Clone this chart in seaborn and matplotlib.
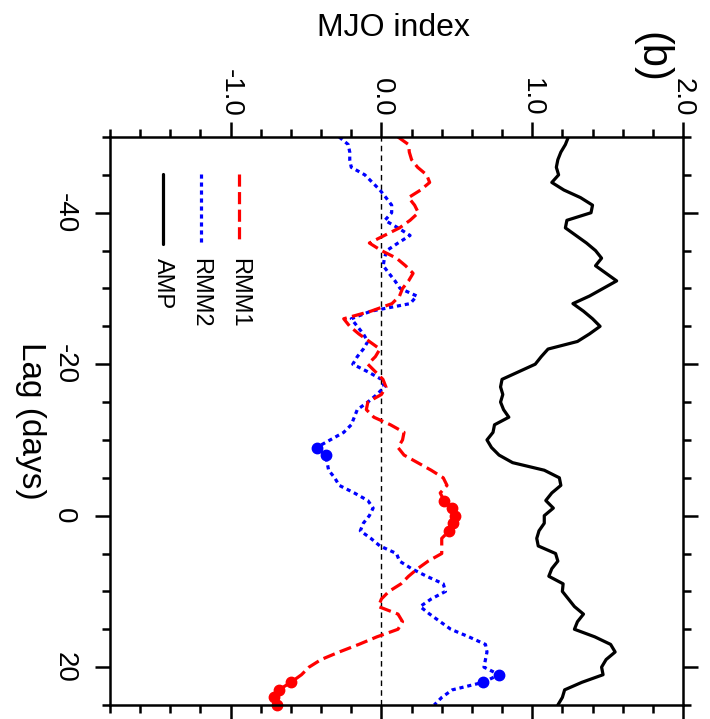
import numpy as np
import pandas as pd
import matplotlib
matplotlib.use("Agg")
import matplotlib.pyplot as plt
import seaborn as sns

# ── data (lag in days, composite MJO index) ─────────────────────
lags = list(range(-50, 26))

amp = [1.24, 1.22, 1.19, 1.17, 1.16, 1.175, 1.13, 1.21, 1.32, 1.40,
       1.39, 1.23, 1.22, 1.29, 1.36, 1.42, 1.46, 1.42, 1.49, 1.56,
       1.47, 1.38, 1.27, 1.34, 1.40, 1.45, 1.38, 1.30, 1.105, 1.06,
       1.02, 0.91, 0.80, 0.79, 0.805, 0.79, 0.81, 0.845, 0.75, 0.74,
       0.70, 0.73, 0.78, 0.87, 1.08, 1.18, 1.19, 1.13, 1.09, 1.14,
       1.08, 1.08, 1.045, 1.03, 1.04, 1.155, 1.17, 1.13, 1.11, 1.205,
       1.20, 1.24, 1.28, 1.34, 1.30, 1.28, 1.415, 1.52, 1.55, 1.49,
       1.46, 1.47, 1.33, 1.215, 1.20, 1.17]

rmm1 = [0.11, 0.18, 0.185, 0.20, 0.24, 0.30, 0.32, 0.26, 0.18, 0.22,
        0.245, 0.19, 0.12, 0.02, -0.08, 0.0, 0.10, 0.16, 0.21, 0.18,
        0.14, 0.12, 0.07, -0.07, -0.25, -0.21, -0.15, -0.08, -0.01, -0.04,
        -0.09, -0.04, 0.01, 0.03, 0.0, -0.09, -0.10, -0.05, 0.06, 0.15,
        0.14, 0.11, 0.15, 0.24, 0.33, 0.41, 0.435, 0.39, 0.415, 0.47,
        0.49, 0.475, 0.45, 0.40, 0.40, 0.40, 0.31, 0.24, 0.18, 0.13,
        0.05, 0.0, -0.02, 0.11, 0.14, 0.11, -0.03, -0.15, -0.28, -0.40,
        -0.48, -0.53, -0.60, -0.68, -0.71, -0.69]

rmm2 = [-0.28, -0.22, -0.21, -0.21, -0.20, -0.11, -0.06, -0.01, 0.03, 0.068,
        0.068, 0.023, 0.11, 0.19, 0.11, 0.035, 0.02, 0.012, 0.05, 0.09,
        0.124, 0.235, 0.19, -0.07, -0.20, -0.16, -0.12, -0.09, -0.12, -0.16,
        -0.19, -0.09, 0.0, 0.02, -0.03, -0.09, -0.16, -0.18, -0.20, -0.25,
        -0.34, -0.43, -0.37, -0.36, -0.35, -0.31, -0.28, -0.18, -0.09, -0.055,
        -0.08, -0.12, -0.14, -0.07, -0.01, 0.10, 0.12, 0.20, 0.30, 0.41,
        0.425, 0.33, 0.257, 0.32, 0.39, 0.46, 0.58, 0.69, 0.70, 0.69,
        0.68, 0.78, 0.676, 0.47, 0.40, 0.35]

# lags marked as significant
rmm1_sig = [-2, -1, 0, 1, 2, 22, 23, 24, 25]
rmm2_sig = [-9, -8, 21, 22]

x_major = [-1.0, 0.0, 1.0, 2.0]
x_labels = ["-1.0", "0.0", "1.0", "2.0"]
y_major = [-40, -20, 0, 20]

df = pd.DataFrame({"lag": lags, "AMP": amp, "RMM1": rmm1, "RMM2": rmm2})

# ── style ─────────────────────────────────────────────────────
sns.set_style("ticks")
plt.rcParams["font.family"] = ["Liberation Sans", "DejaVu Sans"]
plt.rcParams["text.color"] = "black"
plt.rcParams["xtick.color"] = "black"
plt.rcParams["ytick.color"] = "black"

fig = plt.figure(figsize=(7.10, 7.19), dpi=100)
ax = fig.add_axes([110 / 710, 14 / 719, 573 / 710, 568 / 719])

lw = 2.3
ax.axvline(0, color="k", lw=1.0, ls=(0, (4, 3)), zorder=1)

sns.lineplot(data=df, x="AMP", y="lag", orient="y", sort=False, estimator=None,
             color="black", lw=lw, ax=ax)
sns.lineplot(data=df, x="RMM2", y="lag", orient="y", sort=False, estimator=None,
             color="blue", lw=lw, ax=ax, dashes=False)
sns.lineplot(data=df, x="RMM1", y="lag", orient="y", sort=False, estimator=None,
             color="red", lw=lw, ax=ax, dashes=False)
ax.lines[2].set_dashes((1.3, 1.2))
ax.lines[3].set_dashes((3.8, 1.7))

sig1 = df[df["lag"].isin(rmm1_sig)]
sig2 = df[df["lag"].isin(rmm2_sig)]
ax.plot(sig1["RMM1"], sig1["lag"], "o", color="red", ms=7.5, ls="none", clip_on=False)
ax.plot(sig2["RMM2"], sig2["lag"], "o", color="blue", ms=7.5, ls="none", clip_on=False)

# ── axes ──────────────────────────────────────────────────────
ax.set_xlim(-1.8, 2.0)
ax.set_ylim(25, -50)
ax.set_xticks(x_major)
ax.set_xticklabels(x_labels)
ax.set_xticks(np.arange(-1.8, 2.01, 0.2), minor=True)
ax.set_yticks(y_major)
ax.set_yticklabels([str(v) for v in y_major])
ax.set_yticks(np.arange(-50, 26, 5), minor=True)
ax.set_xlabel("")
ax.set_ylabel("")

ax.tick_params(which="both", direction="out", top=True, bottom=True, left=True, right=True,
               labeltop=True, labelbottom=False, labelleft=True, labelright=False,
               width=1.8, color="black", labelcolor="black")
ax.tick_params(which="major", length=10.5)
ax.tick_params(which="minor", length=5.5)
ax.tick_params(axis="x", labelsize=20, pad=4, labelrotation=-90)
ax.tick_params(axis="y", labelsize=20, pad=13, labelrotation=-90)
for t in ax.get_xticklabels():
    t.set_va("bottom")
for t in ax.get_yticklabels():
    t.set_va("center")
for s in ax.spines.values():
    s.set_linewidth(1.8)
    s.set_color("black")

fig.text(393 / 710, 1 - 28 / 719, "MJO index", ha="center", va="center", fontsize=23)
fig.text(30 / 710, 1 - 421 / 719, "Lag (days)", ha="center", va="center",
         fontsize=24, rotation=-90)
fig.text(651 / 710, 1 - 57 / 719, "(b)", ha="center", va="center", fontsize=30, rotation=-90)

# ── legend (rotated, drawn by hand) ───────────────────────────
leg = [("RMM1", "red", (3.8, 1.7), 0.225),
       ("RMM2", "blue", (1.3, 1.2), 0.158),
       ("AMP", "black", None, 0.093)]
for name, col, dash, xa in leg:
    ln, = ax.plot([xa, xa], [0.934, 0.812], transform=ax.transAxes, color=col, lw=lw)
    if dash:
        ln.set_dashes(dash)
    ax.text(xa, 0.787, name, transform=ax.transAxes, rotation=-90,
            ha="center", va="top", fontsize=17)

fig.savefig("out.png", dpi=100)
